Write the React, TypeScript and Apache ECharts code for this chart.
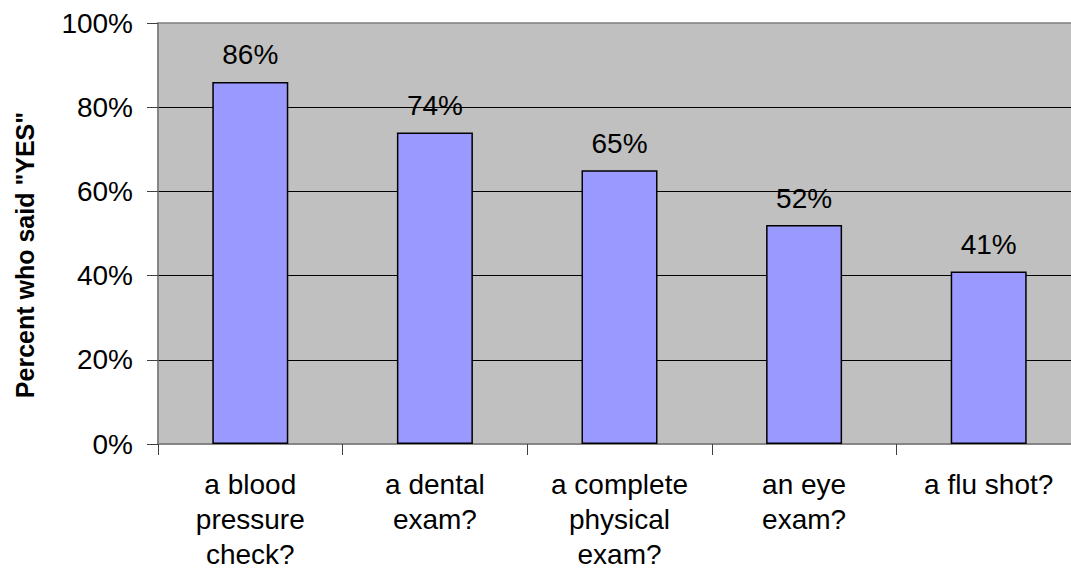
import React, { useEffect, useRef } from "react";
import * as echarts from "echarts";

const categories = [
  "a blood\npressure\ncheck?",
  "a dental\nexam?",
  "a complete\nphysical\nexam?",
  "an eye\nexam?",
  "a flu shot?",
];
const values = [86, 74, 65, 52, 41];
const yTicks = { min: 0, max: 100, interval: 20 };
const yTitle = 'Percent who said "YES"';

const FONT = "'Liberation Sans', Arial, sans-serif";

export default function App() {
  const ref = useRef<HTMLDivElement>(null);
  useEffect(() => {
    document.body.style.margin = "0";
    document.body.style.overflow = "hidden";
    const chart = echarts.init(ref.current!, null, { renderer: "svg" });
    chart.setOption({
      animation: false,
      backgroundColor: "#ffffff",
      grid: {
        left: 158,
        top: 23,
        width: 923,
        height: 421,
        show: true,
        backgroundColor: "#C0C0C0",
        borderColor: "#808080",
        borderWidth: 1.5,
      },
      graphic: [
        {
          type: "text",
          x: 25,
          y: 255,
          rotation: Math.PI / 2,
          style: {
            text: yTitle,
            fill: "#000",
            font: `bold 25px ${FONT}`,
            textAlign: "center",
            textVerticalAlign: "middle",
          },
        },
      ],
      xAxis: {
        type: "category",
        data: categories,
        axisLine: { show: true, lineStyle: { color: "#808080", width: 1.5 } },
        axisTick: { show: true, alignWithLabel: false, length: 11, lineStyle: { color: "#404040", width: 1 } },
        axisLabel: {
          color: "#000",
          fontFamily: FONT,
          fontSize: 28,
          lineHeight: 35,
          margin: 23,
          interval: 0,
        },
      },
      yAxis: {
        type: "value",
        min: yTicks.min,
        max: yTicks.max,
        interval: yTicks.interval,
        axisLine: { show: true, lineStyle: { color: "#808080", width: 1.5 } },
        axisTick: { show: true, length: 11, lineStyle: { color: "#404040", width: 1 } },
        axisLabel: {
          color: "#000",
          fontFamily: FONT,
          fontSize: 28,
          margin: 25,
          formatter: "{value}%",
        },
        splitLine: { show: true, showMinLine: false, showMaxLine: false, lineStyle: { color: "#000", width: 1 } },
      },
      series: [
        {
          type: "bar",
          data: values,
          barWidth: 76,
          itemStyle: { color: "#9999FF", borderColor: "#000", borderWidth: 1.5 },
          label: {
            show: true,
            position: "top",
            distance: 13,
            formatter: "{c}%",
            color: "#000",
            fontFamily: FONT,
            fontSize: 28,
          },
        },
      ],
    });
    return () => chart.dispose();
  }, []);
  return <div ref={ref} style={{ width: 1090, height: 578 }} />;
}
